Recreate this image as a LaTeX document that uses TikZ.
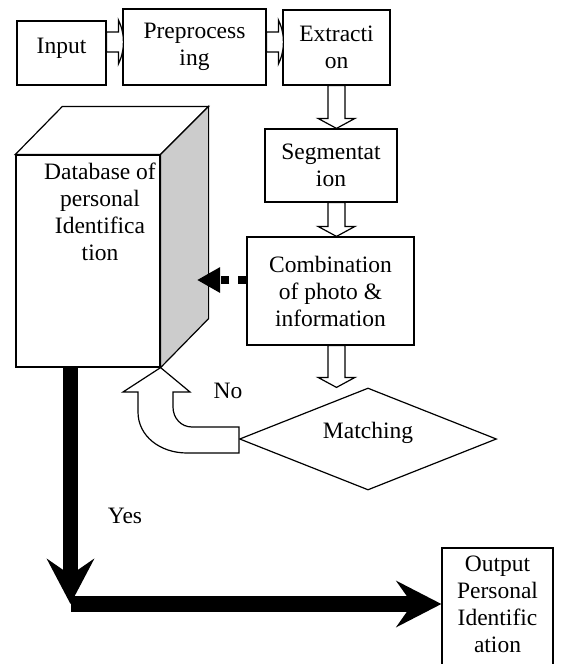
\documentclass[tikz,border=0pt]{standalone}
\usepackage{fontspec}
\setmainfont{Liberation Serif}
\usetikzlibrary{arrows.meta,calc,shapes.geometric}
\definecolor{SideGray}{HTML}{CCCCCC}

% hollow block arrows between boxes
\newcommand{\hollowright}[2]{%
  \draw[hollow] let \p1=(#1.east), \p2=(#2.west) in
    (\x1,-32pt) -- ({\x2-4pt},-32pt) -- ({\x2-4pt},-20pt)
    .. controls (\x2,-28pt) and ({\x2+1pt},-36pt) .. ({\x2+1pt},-42pt)
    .. controls ({\x2+1pt},-48pt) and (\x2,-56pt) .. ({\x2-4pt},-64pt)
    -- ({\x2-4pt},-52pt) -- (\x1,-52pt) -- cycle;}
\newcommand{\hollowdown}[2]{%
  \draw[hollow] let \p1=(#1.south), \p2=(#2.north) in
    (328pt,\y1) -- (328pt,{\y2+10pt}) -- (318pt,{\y2+10pt}) -- (336.5pt,\y2)
    -- (355pt,{\y2+10pt}) -- (345pt,{\y2+10pt}) -- (345pt,\y1) -- cycle;}

\begin{document}
\begin{tikzpicture}[x=1pt,y=-1pt,
  font=\fontsize{23.5}{27}\selectfont,
  box/.style={draw,line width=1.2pt,fill=white,align=center,inner sep=0pt},
  hollow/.style={draw,line width=1.2pt,fill=white,line join=miter},
  bigarrow/.style={line width=15.5pt}]
\useasboundingbox (0,0) rectangle (567,664);
% top row
\node[box,minimum width=89pt,minimum height=64pt,text depth=15pt] (input) at (61.5,53) {Input};
\node[box,minimum width=143pt,minimum height=76pt] (prep) at (194.5,47) {Preprocess\\ing};
\node[box,minimum width=107pt,minimum height=75pt] (extr) at (336.5,47.5) {Extracti\\on};
\hollowright{input}{prep}
\hollowright{prep}{extr}
% right column
\node[box,minimum width=132pt,minimum height=73pt] (seg) at (331,165.5) {Segmentat\\ion};
\node[box,minimum width=167pt,minimum height=108pt] (comb) at (330.5,291) {Combination\\of photo \&\\information};
\node[box,diamond,shape aspect=2.5,minimum width=257pt,minimum height=102pt] (match) at (368,439) {};
\node[inner sep=0pt] (matchtxt) at (368,433) {Matching};
\hollowdown{extr}{seg}
\hollowdown{seg}{comb}
\hollowdown{comb}{match}
% database block
\node[box,minimum width=144pt,minimum height=212pt] (db) at (88,261) {};
\draw[line width=1.2pt,fill=white] (db.north west) -- ($(db.north west)+(47,-48)$)
  -- ($(db.north east)+(48,-48)$) -- (db.north east) -- cycle;
\draw[line width=1.2pt,fill=SideGray] (db.north east) -- ($(db.north east)+(48,-48)$)
  -- ($(db.south east)+(48,-49)$) -- (db.south east) -- cycle;
\node[align=center,inner sep=0pt,anchor=north] (dbtxt) at (100,163) {Database of\\personal\\Identifica\\tion};
% feedback from combination
\coordinate (dashfrom) at ($(comb.west)+(0,-11)$);
\coordinate (dashto) at (197,280);
\draw[line width=8pt,dash pattern=on 8pt off 9pt,-{Triangle[length=23pt,width=24pt]}] (dashfrom) -- (dashto);
% no: back to database
\draw[hollow] ($(match.west)+(0,-12)$) -- (192,427) .. controls (181,427) and (173,418) .. (173,407)
  -- (173,392) -- (190,392) -- (db.south east) -- (123,392) -- (138,392) -- (138,412)
  .. controls (138,436) and (160,453) .. (187,453) -- ($(match.west)+(0,14)$) -- cycle;
\node[inner sep=0pt] (nolbl) at (228,391) {No};
% yes: output
\node[box,minimum width=111pt,minimum height=130pt] (out) at (497.5,613) {};
\node[align=center,inner sep=0pt,anchor=north] (outtxt) at (497.5,556) {Output\\Personal\\Identific\\ation};
\coordinate (dbout) at (70.5,367);
\coordinate (turn) at (70.5,604);
\draw[bigarrow,-{Stealth[length=45pt,width=47pt,inset=16pt]}] (dbout) -- (turn);
\draw[bigarrow,-{Stealth[length=45pt,width=46pt,inset=16pt]}] (turn) -- (out.west |- turn);
\node[inner sep=0pt] (yeslbl) at (125,516) {Yes};
\end{tikzpicture}
\end{document}
